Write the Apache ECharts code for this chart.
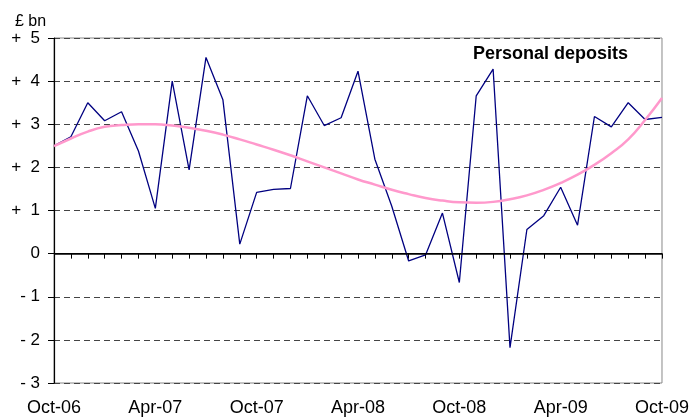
<!DOCTYPE html>
<html>
<head>
<meta charset="utf-8">
<script src="https://cdn.jsdelivr.net/npm/echarts@6/dist/echarts.min.js"></script>
<style>
  html, body { margin: 0; padding: 0; background: #fff; }
  #chart { width: 692px; height: 417px; }
</style>
</head>
<body>
<div id="chart"></div>
<script>
// monthly data, Oct-06 .. Oct-09
var months = [
  "Oct-06", "Nov-06", "Dec-06", "Jan-07", "Feb-07", "Mar-07", "Apr-07", "May-07", "Jun-07",
  "Jul-07", "Aug-07", "Sep-07", "Oct-07", "Nov-07", "Dec-07", "Jan-08", "Feb-08", "Mar-08",
  "Apr-08", "May-08", "Jun-08", "Jul-08", "Aug-08", "Sep-08", "Oct-08", "Nov-08", "Dec-08",
  "Jan-09", "Feb-09", "Mar-09", "Apr-09", "May-09", "Jun-09", "Jul-09", "Aug-09", "Sep-09",
  "Oct-09"
];
var deposits = [
  2.5, 2.71, 3.5, 3.08, 3.29, 2.38, 1.05, 4.0, 1.94,
  4.55, 3.57, 0.22, 1.42, 1.49, 1.51, 3.66, 2.97, 3.15,
  4.23, 2.19, 1.1, -0.17, -0.03, 0.94, -0.67, 3.66, 4.28,
  -2.18, 0.56, 0.88, 1.54, 0.66, 3.18, 2.94, 3.5, 3.11,
  3.16
];
// trend line (pink)
var trend = [
  2.49, 2.67, 2.83, 2.94, 2.98, 3.0, 3.0, 2.97, 2.92,
  2.85, 2.76, 2.65, 2.53, 2.41, 2.28, 2.14, 2.0, 1.86,
  1.72, 1.6, 1.48, 1.38, 1.29, 1.23, 1.19, 1.18, 1.2,
  1.26, 1.35, 1.48, 1.64, 1.83, 2.06, 2.33, 2.65, 3.1,
  3.61
];
var yTicks = { min: -3, max: 5, step: 1 };

var chart = echarts.init(document.getElementById("chart"));
var font = "Liberation Sans, Arial, sans-serif";

var option = {
  animation: false,
  title: {
    text: "Personal deposits",
    left: 468,
    top: 40,
    textStyle: { fontFamily: font, fontSize: 18, fontWeight: "bold", color: "#000" }
  },
  graphic: [
    {
      type: "text",
      left: 15,
      top: 14,
      style: { text: "£ bn", font: "16px " + font, fill: "#000" }
    }
  ],
  grid: {
    left: 54,
    right: 29,
    top: 38,
    bottom: 33,
    show: true,
    borderColor: "#888",
    borderWidth: 1
  },
  xAxis: {
    type: "category",
    data: months,
    boundaryGap: false,
    axisLine: { lineStyle: { color: "#000", width: 1.2 } },
    axisTick: { interval: 0, length: 5, lineStyle: { color: "#000" } },
    axisLabel: {
      interval: 5,
      margin: 16,
      color: "#000",
      fontFamily: font,
      fontSize: 18,
      showMaxLabel: true
    },
    splitLine: { show: false }
  },
  yAxis: {
    type: "value",
    min: yTicks.min,
    max: yTicks.max,
    interval: yTicks.step,
    axisLine: { show: true, lineStyle: { color: "#000", width: 1.2 } },
    axisTick: { show: true, length: 6, lineStyle: { color: "#000" } },
    axisLabel: {
      margin: 14,
      color: "#000",
      fontFamily: font,
      fontSize: 17,
      formatter: function (v) {
        if (v > 0) return "+  " + v;
        if (v < 0) return "- " + Math.abs(v);
        return "0";
      }
    },
    splitLine: {
      show: true,
      lineStyle: { color: "#444", type: [6, 4], width: 1 }
    }
  },
  series: [
    {
      name: "Personal deposits",
      type: "line",
      data: deposits,
      symbol: "none",
      lineStyle: { color: "#000080", width: 1.3 },
      z: 3,
      markLine: {
        silent: true,
        symbol: "none",
        label: { show: false },
        lineStyle: { color: "#000", type: "solid", width: 1.5 },
        data: [{ yAxis: 0 }]
      }
    },
    {
      name: "Trend",
      type: "line",
      data: trend,
      smooth: true,
      symbol: "none",
      lineStyle: { color: "#FF99CC", width: 2.5 },
      z: 4
    }
  ]
};

chart.setOption(option);
</script>
</body>
</html>
